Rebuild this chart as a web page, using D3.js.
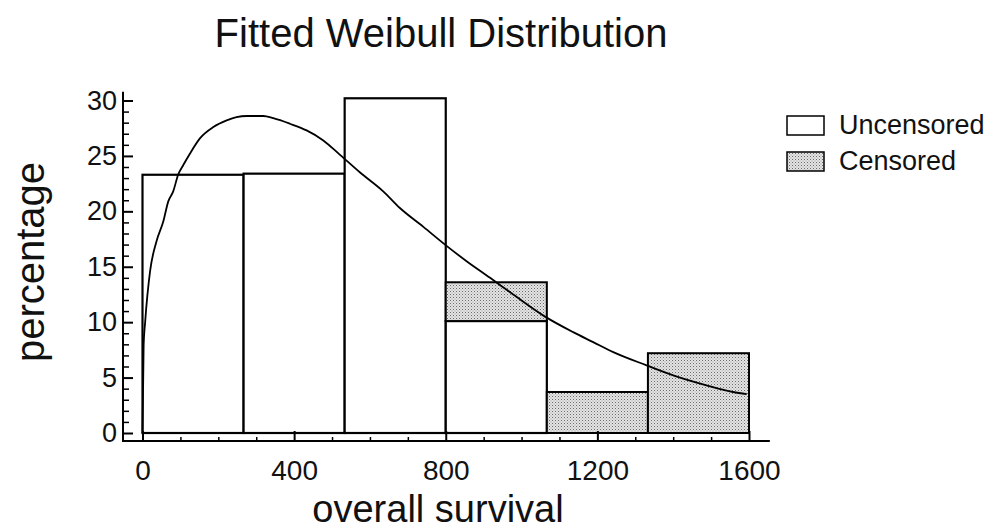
<!DOCTYPE html>
<html>
<head>
<meta charset="utf-8">
<script src="https://cdn.jsdelivr.net/npm/d3@7"></script>
<style>
  html, body { margin: 0; padding: 0; background: #fff; }
  svg { display: block; font-family: "Liberation Sans", Arial, Helvetica, sans-serif; }
</style>
</head>
<body>
<svg id="chart" width="990" height="530"></svg>
<script>
// ---- data ----
const binStart = [0, 266.67, 533.33, 800, 1066.67, 1333.33];
const binEnd   = [266.67, 533.33, 800, 1066.67, 1333.33, 1600];
const uncensored = [23.3, 23.4, 30.2, 10.1, 0, 0];
const censored   = [0, 0, 0, 3.5, 3.7, 7.2];
const seriesNames = ["Uncensored", "Censored"];

const curveX = [0, 3, 7, 20, 37, 55, 68, 81, 94, 108, 125, 152, 187, 222, 248, 275, 319, 345, 389, 433, 477, 521, 574, 635, 679, 741, 798, 855, 917, 978, 1062, 1136, 1189, 1242, 1330, 1400, 1488, 1558, 1594];
const curveY = [0, 7.9, 10.0, 14.6, 17.3, 19.1, 20.9, 21.8, 23.3, 24.2, 25.2, 26.6, 27.6, 28.2, 28.5, 28.6, 28.6, 28.4, 27.9, 27.3, 26.4, 25.1, 23.5, 21.8, 20.3, 18.6, 17.0, 15.5, 14.0, 12.5, 10.5, 9.1, 8.2, 7.3, 6.1, 5.2, 4.3, 3.7, 3.5];

const xTicks = [0, 400, 800, 1200, 1600];
const yTicks = [0, 5, 10, 15, 20, 25, 30];

const titleText = "Fitted Weibull Distribution";
const xLabel = "overall survival";
const yLabel = "percentage";

// ---- layout ----
const svg = d3.select("#chart");
const x = d3.scaleLinear().domain([0, 1600]).range([142.5, 749]);
const y = d3.scaleLinear().domain([0, 30]).range([433, 100.5]);
const axisY = 441;   // x-axis line position
const axisX = 123;   // y-axis line position

// pattern for censored (stipple)
const defs = svg.append("defs");
const pat = defs.append("pattern").attr("id", "stipple")
  .attr("patternUnits", "userSpaceOnUse").attr("width", 3).attr("height", 3);
pat.append("rect").attr("width", 3).attr("height", 3).attr("fill", "#e4e4e4");
pat.append("rect").attr("x", 0).attr("y", 0).attr("width", 1).attr("height", 1).attr("fill", "#6a6a6a");
pat.append("rect").attr("x", 1.5).attr("y", 1.5).attr("width", 1).attr("height", 1).attr("fill", "#9a9a9a");

// title
svg.append("text").attr("x", 441).attr("y", 47).attr("text-anchor", "middle")
  .attr("font-size", 40).attr("fill", "#111").text(titleText);

// bars: uncensored
const bars = binStart.map((s, i) => ({ s, e: binEnd[i], u: uncensored[i], c: censored[i] }));
svg.append("g").selectAll("rect.unc").data(bars.filter(d => d.u > 0)).join("rect")
  .attr("x", d => x(d.s)).attr("width", d => x(d.e) - x(d.s))
  .attr("y", d => y(d.u)).attr("height", d => y(0) - y(d.u))
  .attr("fill", "#fff").attr("stroke", "#000").attr("stroke-width", 2.2);

// bars: censored stacked
svg.append("g").selectAll("rect.cen").data(bars.filter(d => d.c > 0)).join("rect")
  .attr("x", d => x(d.s)).attr("width", d => x(d.e) - x(d.s))
  .attr("y", d => y(d.u + d.c)).attr("height", d => y(d.u) - y(d.u + d.c))
  .attr("fill", "url(#stipple)").attr("stroke", "#000").attr("stroke-width", 2);

// baseline under bars
svg.append("line").attr("x1", x(0)).attr("x2", x(1600)).attr("y1", y(0)).attr("y2", y(0))
  .attr("stroke", "#000").attr("stroke-width", 1.5);

// fitted curve
const line = d3.line().x((d, i) => x(curveX[i])).y(d => y(d)).curve(d3.curveMonotoneX);
svg.append("path").datum(curveY).attr("d", line)
  .attr("fill", "none").attr("stroke", "#000").attr("stroke-width", 1.8);

// y axis
const yAxis = d3.axisLeft(y).tickValues(yTicks).tickSizeInner(-10).tickSizeOuter(0).tickPadding(6);
const gy = svg.append("g").attr("transform", `translate(${axisX},0)`).call(yAxis);
gy.select(".domain").remove();
gy.selectAll("text").attr("font-size", 27).attr("fill", "#111").attr("font-family", "Liberation Sans, Arial, sans-serif");
gy.selectAll("line").attr("stroke-width", 2);
const yMinor = d3.axisLeft(y).tickValues(d3.range(0, 31, 1).filter(v => v % 5 !== 0)).tickSizeInner(-6).tickSizeOuter(0).tickFormat("");
const gym = svg.append("g").attr("transform", `translate(${axisX},0)`).call(yMinor);
gym.select(".domain").remove();
gym.selectAll("line").attr("stroke-width", 1.5);
svg.append("line").attr("x1", axisX).attr("x2", axisX).attr("y1", y(30.8)).attr("y2", axisY + 1)
  .attr("stroke", "#000").attr("stroke-width", 2);

// x axis
const xAxis = d3.axisBottom(x).tickValues(xTicks).tickFormat(d3.format("d"))
  .tickSizeInner(-10).tickSizeOuter(0).tickPadding(19);
const gx = svg.append("g").attr("transform", `translate(0,${axisY})`).call(xAxis);
gx.select(".domain").remove();
gx.selectAll("text").attr("font-size", 28).attr("fill", "#111").attr("font-family", "Liberation Sans, Arial, sans-serif");
gx.selectAll("line").attr("stroke-width", 2);
const xMinor = d3.axisBottom(x).tickValues(d3.range(100, 1600, 100).filter(v => v % 400 !== 0)).tickSizeInner(-4).tickSizeOuter(0).tickFormat("");
const gxm = svg.append("g").attr("transform", `translate(0,${axisY})`).call(xMinor);
gxm.select(".domain").remove();
gxm.selectAll("line").attr("stroke-width", 1.5);
svg.append("line").attr("x1", axisX).attr("x2", x(1655)).attr("y1", axisY).attr("y2", axisY)
  .attr("stroke", "#000").attr("stroke-width", 2);

// axis labels
svg.append("text").attr("x", 438).attr("y", 522).attr("text-anchor", "middle")
  .attr("font-size", 38).attr("fill", "#111").text(xLabel);
svg.append("text").attr("transform", "translate(44,262) rotate(-90)").attr("text-anchor", "middle")
  .attr("font-size", 40).attr("fill", "#111").text(yLabel);

// legend
const legend = svg.append("g");
const fills = ["#fff", "url(#stipple)"];
seriesNames.forEach((name, i) => {
  const gy0 = 116 + i * 36;
  legend.append("rect").attr("x", 787).attr("y", gy0).attr("width", 37).attr("height", 19)
    .attr("fill", fills[i]).attr("stroke", "#000").attr("stroke-width", 1.5);
  legend.append("text").attr("x", 839).attr("y", gy0 + 18).attr("font-size", 27)
    .attr("fill", "#111").text(name);
});
</script>
</body>
</html>
